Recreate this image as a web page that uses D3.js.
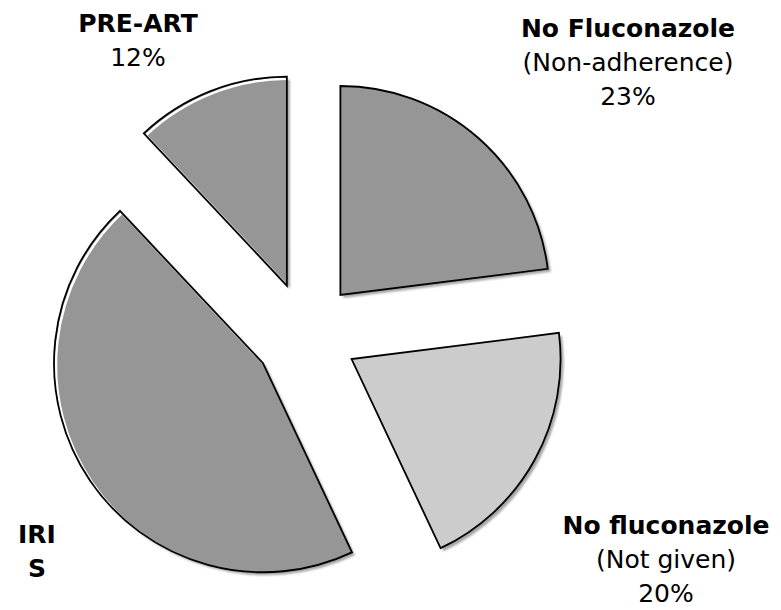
<!DOCTYPE html>
<html>
<head>
<meta charset="utf-8">
<script src="https://cdn.jsdelivr.net/npm/d3@7"></script>
<style>
	body { margin: 0; background: #fff; }
	text { font-family: "DejaVu Sans", Verdana, sans-serif; font-size: 25px; fill: #000; }
</style>
</head>
<body>
<svg id="pieSVG"></svg>
<script>
// slices, clockwise from 12 o'clock
var categories = ['No Fluconazole', 'No fluconazole', 'IRIS', 'PRE-ART'];
var values = [23, 20, 45, 12];
var subLabels = ['(Non-adherence)', '(Not given)', '', ''];
// label lines as printed (IRIS wraps in the original)
var nameLines = [['No Fluconazole'], ['No fluconazole'], ['IRI', 'S'], ['PRE-ART']];

var svgDimensions = { width: 781, height: 610 };
var center = { x: 306, y: 334 };
var radius = 209;
var explode = 52;
var lineHeight = 34;
var fills = ['#969696', '#cccccc', '#969696', '#969696'];
// where each label block sits (centre x, first baseline y)
var labelPos = [[628, 37], [666, 534], [37, 543], [138, 32]];

var svg = d3.select('#pieSVG')
	.attr('width', svgDimensions.width)
	.attr('height', svgDimensions.height);

var defs = svg.append('defs');
defs.append('filter')
	.attr('id', 'soft')
	.append('feGaussianBlur')
	.attr('stdDeviation', 0.8);

var pie = d3.pie().sort(null).value(d => d);
var arcs = pie(values);
var arc = d3.arc().innerRadius(0).outerRadius(radius);

function offset(d) {
	var mid = (d.startAngle + d.endAngle) / 2;
	return [center.x + explode * Math.sin(mid), center.y - explode * Math.cos(mid)];
}

var slices = svg.append('g').selectAll('g.slice')
	.data(arcs)
	.enter()
	.append('g')
	.attr('class', 'slice')
	.attr('transform', d => 'translate(' + offset(d) + ')');

// drop shadow
slices.append('path')
	.attr('d', arc)
	.attr('transform', 'translate(3,3)')
	.attr('fill', '#a4a4a4')
	.attr('filter', 'url(#soft)');

slices.append('path')
	.attr('d', arc)
	.attr('fill', (d, i) => fills[i]);

// white bevel line on the left-facing slices
slices.each(function(d, i) {
	var mid = (d.startAngle + d.endAngle) / 2;
	if (mid < Math.PI) return;
	defs.append('clipPath')
		.attr('id', 'clip' + i)
		.append('path')
		.attr('d', arc(d));
	d3.select(this).append('g')
		.attr('clip-path', 'url(#clip' + i + ')')
		.append('path')
		.attr('d', arc(d))
		.attr('transform', 'translate(2,2)')
		.attr('fill', 'none')
		.attr('stroke', '#fff')
		.attr('stroke-width', 2.5);
});

slices.append('path')
	.attr('d', arc)
	.attr('fill', 'none')
	.attr('stroke', '#000')
	.attr('stroke-width', 1.8)
	.attr('stroke-linejoin', 'miter');

// labels
var labels = svg.append('g').selectAll('text.label')
	.data(arcs)
	.enter()
	.append('text')
	.attr('class', 'label')
	.attr('text-anchor', 'middle')
	.attr('x', (d, i) => labelPos[i][0])
	.attr('y', (d, i) => labelPos[i][1]);

labels.each(function(d, i) {
	var t = d3.select(this);
	var lines = nameLines[i].map(s => ({ s: s, bold: true }));
	if (subLabels[i]) lines.push({ s: subLabels[i], bold: false });
	if (nameLines[i].length == 1) lines.push({ s: values[i] + '%', bold: false });
	lines.forEach(function(l, k) {
		t.append('tspan')
			.attr('x', labelPos[i][0])
			.attr('dy', k == 0 ? 0 : lineHeight)
			.attr('font-weight', l.bold ? 'bold' : 'normal')
			.text(l.s);
	});
});
</script>
</body>
</html>
